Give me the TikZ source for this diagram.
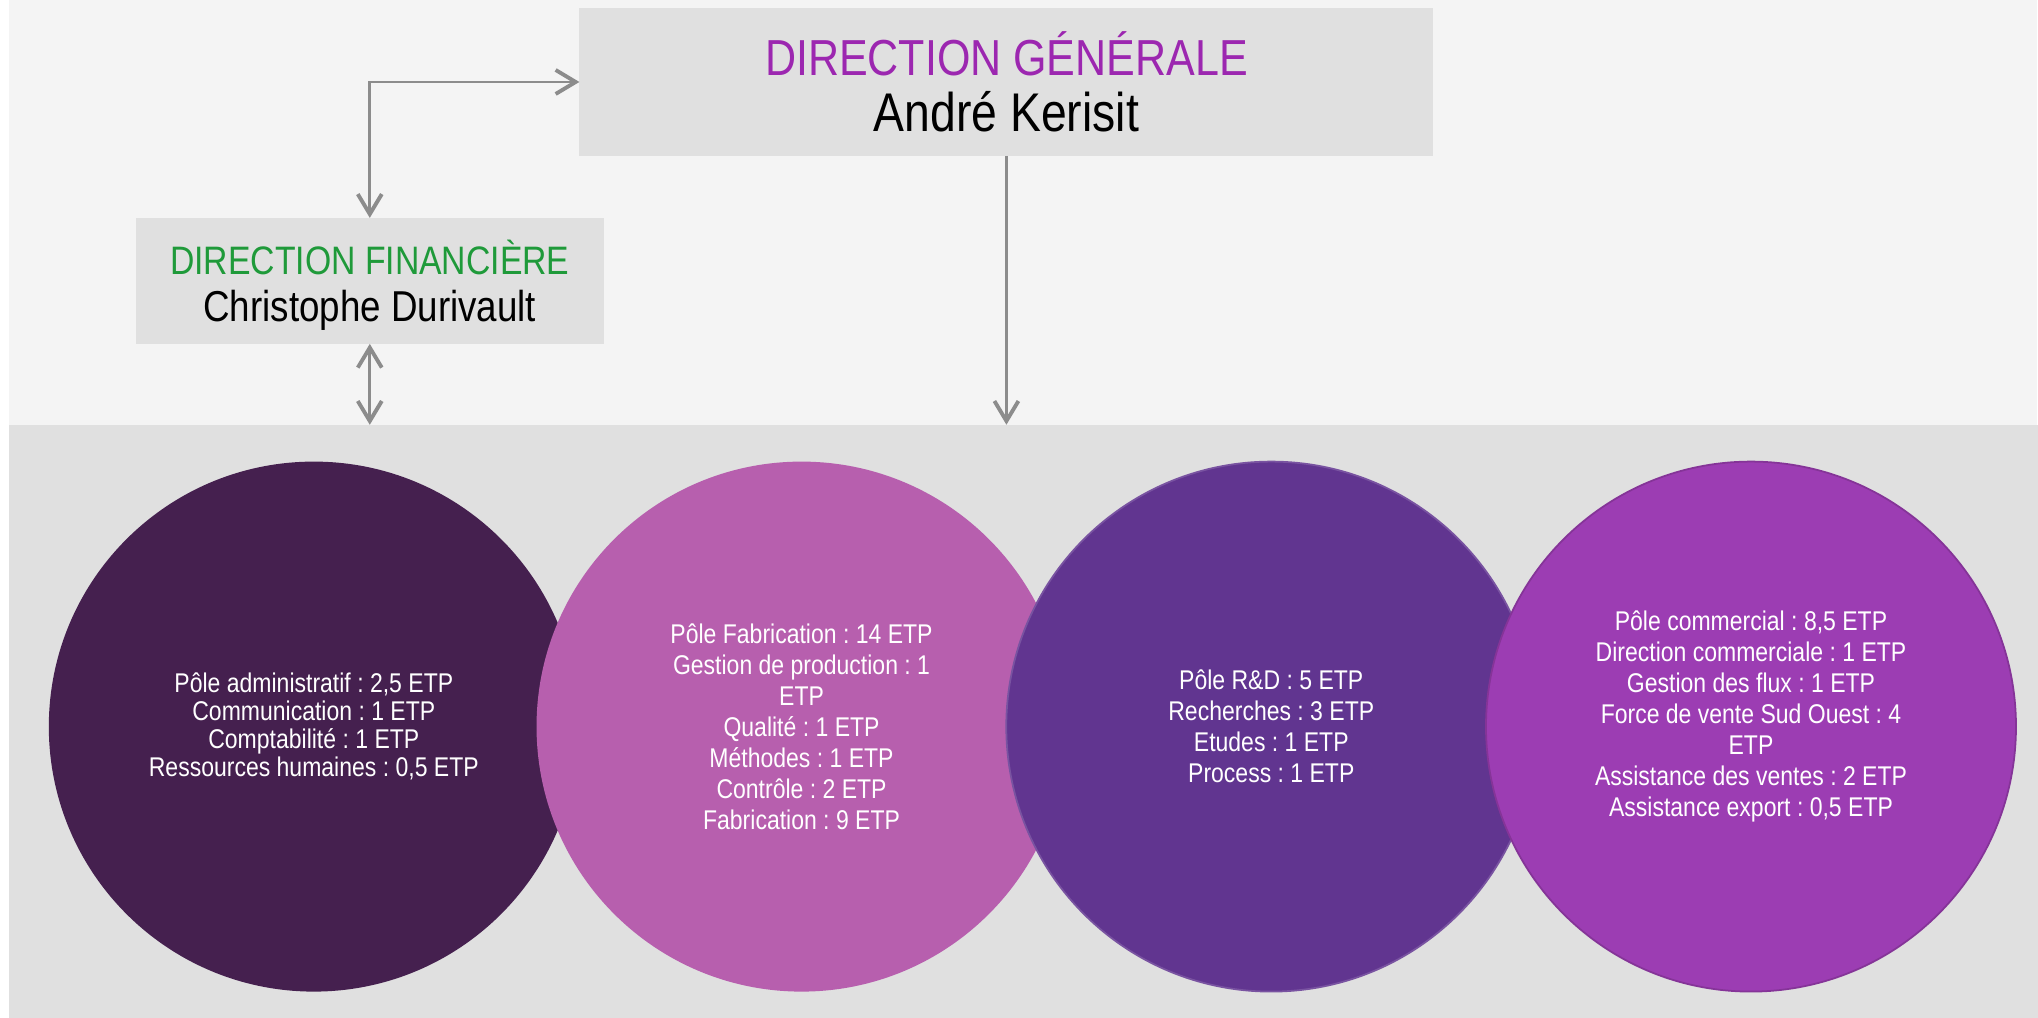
\documentclass[tikz,border=0pt]{standalone}
\usepackage{fontspec}
\setmainfont{Liberation Sans}[FakeStretch=0.85]
\usepackage{tikz}
\usetikzlibrary{arrows.meta,positioning,calc}
\definecolor{bandgray}{HTML}{E0E0E0}
\definecolor{skygray}{HTML}{F4F4F4}
\definecolor{arrgray}{HTML}{8C8C8C}
\definecolor{dgpurple}{HTML}{9C27B0}
\definecolor{dfgreen}{HTML}{1F9A3A}
\definecolor{poleadm}{HTML}{45204F}
\definecolor{polefab}{HTML}{B75FAE}
\definecolor{polerd}{HTML}{613590}
\definecolor{polecom}{HTML}{9C3DB3}
\frenchspacing

\begin{document}
\begin{tikzpicture}[x=0.01cm,y=-0.01cm,
  >={Straight Barb[length=2mm,width=2.4mm,line width=1.1pt]},
  dirbox/.style={fill=bandgray,inner sep=0pt,outer sep=0pt,align=center},
  pole/.style={circle,minimum size=5.3cm,inner sep=0pt,outer sep=0pt},
  poletxt/.style={align=center,text=white,font=\fontsize{7.7}{8.8}\selectfont},
  arr/.style={->,line width=0.8pt,color=arrgray},
  biarr/.style={<->,line width=0.8pt,color=arrgray},
]
  % fond
  \fill[white] (0,0) rectangle (2038,1018);
  \fill[skygray] (9,0) rectangle (2038,425);
  \node[fill=bandgray,minimum width=20.29cm,minimum height=5.93cm,
        anchor=north west,inner sep=0pt,outer sep=0pt] (band) at (9,425) {};

  % directions
  \node[dirbox,minimum width=8.54cm,minimum height=1.48cm,
        font=\fontsize{15.5}{15.9}\selectfont] (dg) at (1007,82)
    {{\color{dgpurple}\fontsize{14.4}{15.9}\selectfont DIRECTION GÉNÉRALE}\\André Kerisit};
  \node[dirbox,minimum width=4.68cm,minimum height=1.26cm,text depth=0pt,
        font=\fontsize{12.3}{13.4}\selectfont] (df) at (370,281)
    {{\color{dfgreen}\fontsize{11.3}{13.4}\selectfont DIRECTION FINANCIÈRE}\\Christophe Durivault};

  \draw[biarr] (dg.west) -| (df.north);
  \draw[biarr] (df.south) -- (df.south |- band.north);
  \draw[arr] (dg.south) -- (dg.south |- band.north);

  % poles
  \node[pole,fill=poleadm] (adm) at (314,727) {};
  \node[poletxt,font=\fontsize{7.7}{8}\selectfont] (admtxt) at (adm)
    {Pôle administratif : 2,5 ETP\\Communication : 1 ETP\\Comptabilité : 1 ETP\\Ressources humaines : 0,5 ETP};

  \node[pole,fill=polefab] (fab) at (802,727) {};
  \node[poletxt] (fabtxt) at (fab)
    {Pôle Fabrication : 14 ETP\\Gestion de production : 1\\ETP\\Qualité : 1 ETP\\Méthodes : 1 ETP\\Contrôle : 2 ETP\\Fabrication : 9 ETP};

  \node[pole,fill=polerd,draw=polerd!85!white,line width=0.5pt] (rd) at (1272,727) {};
  \node[poletxt] (rdtxt) at (rd)
    {Pôle R\&D : 5 ETP\\Recherches : 3 ETP\\Etudes : 1 ETP\\Process : 1 ETP};

  \node[pole,fill=polecom,draw=polecom!85!black,line width=0.5pt] (com) at (1752,727) {};
  \node[poletxt] (comtxt) at ([yshift=0.1cm]com.center)
    {Pôle commercial : 8,5 ETP\\Direction commerciale : 1 ETP\\Gestion des flux : 1 ETP\\Force de vente Sud Ouest : 4\\ETP\\Assistance des ventes : 2 ETP\\Assistance export : 0,5 ETP};
\end{tikzpicture}
\end{document}
